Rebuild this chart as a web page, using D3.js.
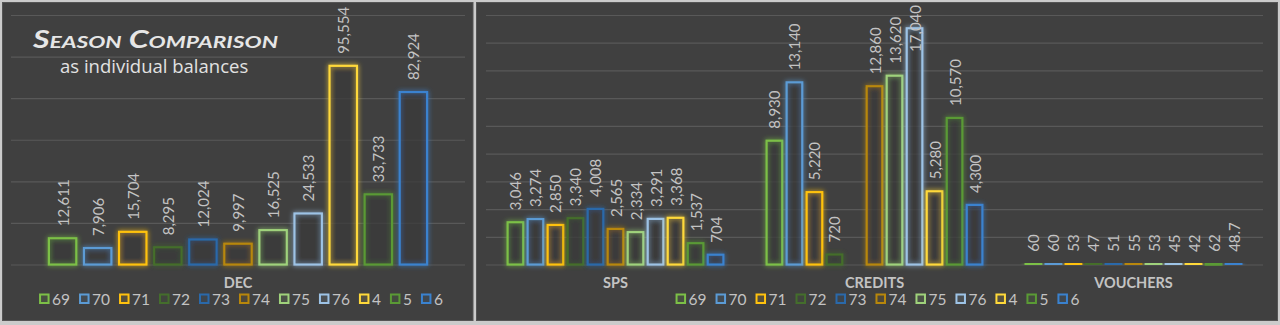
<!DOCTYPE html>
<html>
<head>
<meta charset="utf-8">
<script src="https://cdn.jsdelivr.net/npm/d3@7"></script>
<style>
  html, body { margin: 0; padding: 0; background: #c9c9c9; }
  svg { display: block; }
</style>
</head>
<body>
<svg id="chart" width="1280" height="325"></svg>
<script>
// ---------- DATA ----------
const seasons = ["69", "70", "71", "72", "73", "74", "75", "76", "4", "5", "6"];
const seriesColors = ["#7cc047", "#5b9bd5", "#ffc20e", "#446e2c", "#2a69aa", "#b8870b", "#9fd27b", "#9dc3e6", "#ffd93a", "#5a9a35", "#3a82cf"];
const leftCategories = ["DEC"];
const decValues = [12611, 7906, 15704, 8295, 12024, 9997, 16525, 24533, 95554, 33733, 82924];
const rightCategories = ["SPS", "CREDITS", "VOUCHERS"];
const spsValues = [3046, 3274, 2850, 3340, 4008, 2565, 2334, 3291, 3368, 1537, 704];
const creditsValues = [8930, 13140, 5220, 720, null, 12860, 13620, 17040, 5280, 10570, 4300];
const voucherValues = [60, 60, 53, 47, 51, 55, 53, 45, 42, 62, 48.7];
const leftTicks = [0, 20000, 40000, 60000, 80000, 100000, 120000];
const rightTicks = [0, 2000, 4000, 6000, 8000, 10000, 12000, 14000, 16000, 18000];
const titleText = "Season Comparison";
const subtitleText = "as individual balances";

// ---------- SETUP ----------
const svg = d3.select("#chart");
const fmt = d3.format(",");
const FONT = "Lato, 'Open Sans', sans-serif";
const textGray = "#c3c3c3";

const defs = svg.append("defs");
const glow = defs.append("filter").attr("id", "glow")
  .attr("x", "-60%").attr("y", "-60%").attr("width", "220%").attr("height", "220%");
glow.append("feGaussianBlur").attr("in", "SourceGraphic").attr("stdDeviation", 2.4).attr("result", "blur");
const merge = glow.append("feMerge");
merge.append("feMergeNode").attr("in", "blur");
merge.append("feMergeNode").attr("in", "SourceGraphic");

// outer frame
svg.append("rect").attr("x", 0).attr("y", 0).attr("width", 1280).attr("height", 325).attr("fill", "#cbcbcb");

function panel(opt) {
  const g = svg.append("g");
  g.append("rect").attr("x", opt.px).attr("y", opt.py).attr("width", opt.pw).attr("height", opt.ph)
    .attr("fill", "#404040").attr("stroke", "#555").attr("stroke-width", 1);

  const y = d3.scaleLinear().domain([0, opt.ticks[opt.ticks.length - 1]]).range([264.5, 15]);
  const x = d3.scaleBand().domain(opt.categories).range([opt.x0, opt.x1]).paddingInner(0).paddingOuter(0);

  // gridlines via axis
  const yAxis = d3.axisLeft(y).tickValues(opt.ticks).tickSize(-(opt.x1 - opt.x0)).tickFormat("");
  const ag = g.append("g").attr("transform", `translate(${opt.x0},0)`).call(yAxis);
  ag.select(".domain").remove();
  ag.selectAll(".tick line").attr("stroke", "#595959").attr("stroke-width", 1.2);

  const groupFrac = 0.833;
  opt.categories.forEach((cat, ci) => {
    const vals = opt.values[ci];
    const bw = x.bandwidth();
    const gx0 = x(cat) + bw * (1 - groupFrac) / 2;
    const s = d3.scaleBand().domain(seasons).range([gx0, gx0 + bw * groupFrac]).paddingInner(0.22).paddingOuter(0);
    const data = seasons.map((k, i) => ({ k, i, v: vals[i] })).filter(d => d.v !== null);

    const bars = g.append("g");
    bars.selectAll("rect").data(data).join("rect")
      .attr("x", d => s(d.k))
      .attr("y", d => y(d.v))
      .attr("width", s.bandwidth())
      .attr("height", d => y(0) - y(d.v))
      .attr("fill", "#383838").attr("fill-opacity", 0.5)
      .attr("stroke", d => seriesColors[d.i]).attr("stroke-width", 2.2)
      .attr("filter", "url(#glow)");

    const labels = g.append("g");
    labels.selectAll("text").data(data).join("text")
      .attr("font-family", FONT).attr("font-size", 15).attr("fill", textGray)
      .attr("dominant-baseline", "central")
      .text(d => fmt(d.v))
      .each(function (d) {
        const L = this.getComputedTextLength();
        const cx = s(d.k) + s.bandwidth() / 2;
        let start = y(d.v) - 12;
        if (start - L < 5) start = 5 + L;
        d3.select(this).attr("transform", `translate(${cx},${start}) rotate(-90)`);
      });

    g.append("text").attr("x", x(cat) + bw / 2).attr("y", 288)
      .attr("text-anchor", "middle").attr("font-family", FONT).attr("font-weight", "bold")
      .attr("font-size", 14.5).attr("fill", textGray).text(cat);
  });

  // legend
  const lg = g.append("g");
  let cx = 0;
  seasons.forEach((k, i) => {
    const it = lg.append("g").attr("transform", `translate(${cx},0)`);
    it.append("rect").attr("x", 1).attr("y", 294.5).attr("width", 8.5).attr("height", 8.5)
      .attr("fill", seriesColors[i]).attr("fill-opacity", 0.12)
      .attr("stroke", seriesColors[i]).attr("stroke-width", 2);
    const t = it.append("text").attr("x", 13).attr("y", 304.5).attr("font-family", FONT)
      .attr("font-size", 15.5).attr("fill", textGray).text(k);
    cx += 13 + t.node().getComputedTextLength() + 9;
  });
  const total = cx - 9;
  lg.attr("transform", `translate(${(opt.x0 + opt.x1) / 2 + 3 - total / 2},0)`);
  return g;
}

panel({ px: 2.5, py: 2.5, pw: 470.5, ph: 318, x0: 11, x1: 465, categories: leftCategories,
  values: [decValues], ticks: leftTicks });
panel({ px: 476.5, py: 2.5, pw: 801, ph: 318, x0: 486, x1: 1263, categories: rightCategories,
  values: [spsValues, creditsValues, voucherValues], ticks: rightTicks });

// title
svg.append("text").attr("x", 33).attr("y", 47.5)
  .attr("font-family", FONT).attr("font-weight", "bold").attr("font-style", "italic")
  .attr("font-variant", "small-caps").attr("font-size", 24).attr("fill", "#e6e6e6")
  .attr("textLength", 245).attr("lengthAdjust", "spacingAndGlyphs")
  .text(titleText);
svg.append("text").attr("x", 60).attr("y", 72.5)
  .attr("font-family", "'Open Sans', Lato, sans-serif").attr("font-size", 18.5).attr("fill", "#e2e2e2")
  .text(subtitleText);
</script>
</body>
</html>
